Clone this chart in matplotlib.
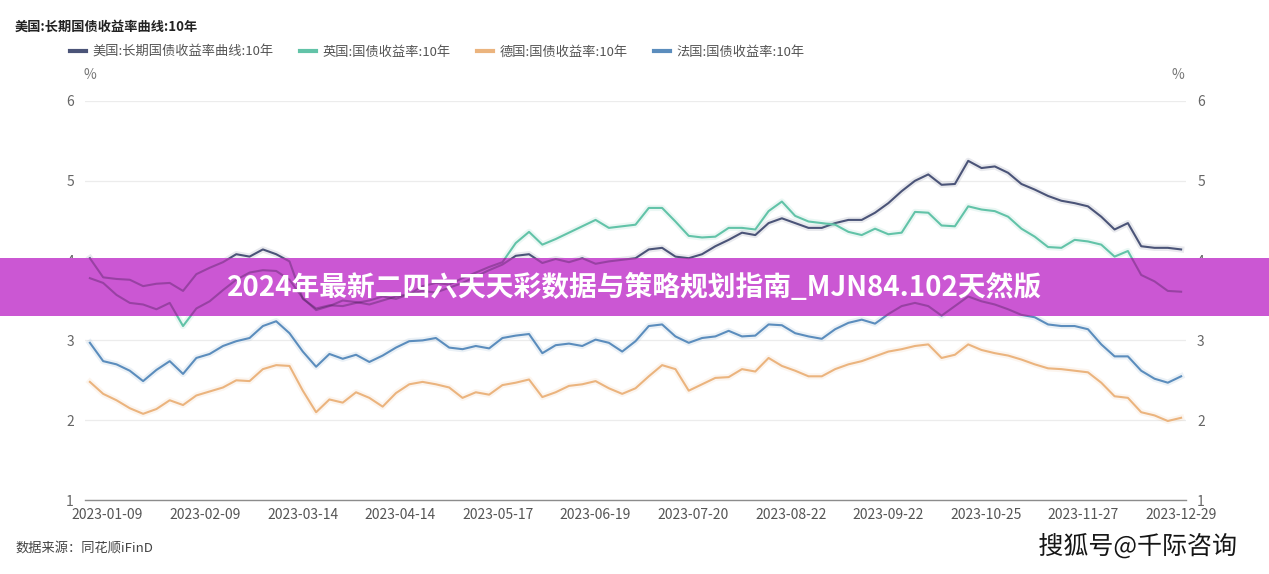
import numpy as np
import matplotlib
matplotlib.use('Agg')
import matplotlib.pyplot as plt
from matplotlib.patches import Rectangle
from matplotlib.lines import Line2D
import matplotlib.patheffects as pe

plt.rcParams['font.family'] = ['Noto Sans CJK SC', 'DejaVu Sans']

# ---------------- data ----------------
chart_title = '美国:长期国债收益率曲线:10年'
series_names = ['美国:长期国债收益率曲线:10年', '英国:国债收益率:10年',
                '德国:国债收益率:10年', '法国:国债收益率:10年']
step = 3  # one reading every 3 trading days, starting 2023-01-03
tick_index = [4, 26, 48, 70, 92, 114, 136, 158, 180, 202, 224, 246]
tick_labels = ['2023-01-09', '2023-02-09', '2023-03-14', '2023-04-14',
               '2023-05-17', '2023-06-19', '2023-07-20', '2023-08-22',
               '2023-09-22', '2023-10-25', '2023-11-27', '2023-12-29']
y_ticks = [1, 2, 3, 4, 5, 6]

us = [4.03, 3.79, 3.77, 3.76, 3.68, 3.71, 3.72, 3.62, 3.83, 3.91,
      3.98, 4.08, 4.05, 4.14, 4.08, 3.99, 3.52, 3.40, 3.44, 3.43,
      3.47, 3.50, 3.55, 3.52, 3.58, 3.62, 3.60, 3.66, 3.72, 3.80,
      3.88, 3.95, 4.06, 4.08, 3.97, 4.02, 3.98, 4.03, 3.96, 3.99,
      4.01, 4.03, 4.14, 4.16, 4.05, 4.03, 4.08, 4.18, 4.26, 4.35,
      4.32, 4.47, 4.53, 4.47, 4.41, 4.41, 4.47, 4.51, 4.51, 4.60,
      4.72, 4.87, 5.00, 5.08, 4.95, 4.96, 5.25, 5.16, 5.18, 5.10,
      4.96, 4.89, 4.81, 4.75, 4.72, 4.68, 4.55, 4.39, 4.47, 4.18,
      4.16, 4.16, 4.14]
uk = [3.78, 3.72, 3.57, 3.47, 3.45, 3.39, 3.47, 3.18, 3.40, 3.49,
      3.63, 3.76, 3.85, 3.88, 3.87, 3.76, 3.53, 3.38, 3.43, 3.50,
      3.48, 3.45, 3.50, 3.55, 3.58, 3.68, 3.72, 3.70, 3.78, 3.85,
      3.92, 3.98, 4.22, 4.36, 4.20, 4.27, 4.35, 4.43, 4.51, 4.41,
      4.43, 4.45, 4.66, 4.66, 4.49, 4.31, 4.29, 4.30, 4.41, 4.41,
      4.39, 4.62, 4.74, 4.56, 4.49, 4.47, 4.45, 4.36, 4.32, 4.40,
      4.33, 4.35, 4.61, 4.60, 4.44, 4.43, 4.68, 4.64, 4.62, 4.55,
      4.40, 4.30, 4.17, 4.16, 4.26, 4.24, 4.20, 4.05, 4.12, 3.82,
      3.74, 3.62, 3.61]
de = [2.48, 2.33, 2.25, 2.15, 2.08, 2.14, 2.25, 2.19, 2.31, 2.36,
      2.41, 2.50, 2.49, 2.64, 2.69, 2.68, 2.37, 2.10, 2.26, 2.22,
      2.35, 2.28, 2.17, 2.34, 2.45, 2.48, 2.45, 2.41, 2.28, 2.35,
      2.32, 2.44, 2.47, 2.51, 2.29, 2.35, 2.43, 2.45, 2.49, 2.40,
      2.33, 2.40, 2.55, 2.69, 2.64, 2.37, 2.45, 2.53, 2.54, 2.64,
      2.61, 2.78, 2.68, 2.62, 2.55, 2.55, 2.64, 2.70, 2.74, 2.80,
      2.86, 2.89, 2.93, 2.95, 2.78, 2.82, 2.95, 2.88, 2.84, 2.81,
      2.76, 2.70, 2.65, 2.64, 2.62, 2.60, 2.47, 2.30, 2.28, 2.10,
      2.06, 1.99, 2.03]
fr = [2.97, 2.74, 2.70, 2.62, 2.49, 2.63, 2.74, 2.58, 2.78, 2.83,
      2.93, 2.99, 3.03, 3.18, 3.24, 3.09, 2.86, 2.67, 2.83, 2.77,
      2.82, 2.73, 2.81, 2.91, 2.99, 3.00, 3.03, 2.91, 2.89, 2.93,
      2.90, 3.03, 3.06, 3.08, 2.84, 2.94, 2.96, 2.93, 3.01, 2.97,
      2.86, 2.99, 3.18, 3.20, 3.05, 2.97, 3.03, 3.05, 3.12, 3.05,
      3.06, 3.20, 3.19, 3.09, 3.05, 3.02, 3.14, 3.22, 3.26, 3.21,
      3.33, 3.43, 3.47, 3.43, 3.31, 3.43, 3.55, 3.49, 3.45, 3.39,
      3.32, 3.29, 3.20, 3.18, 3.18, 3.14, 2.95, 2.80, 2.80, 2.62,
      2.52, 2.47, 2.55]

banner_text = '2024年最新二四六天天彩数据与策略规划指南_MJN84.102天然版'
source_text = '数据来源：同花顺iFinD'
watermark = '搜狐号@千际咨询'

# ---------------- layout ----------------
W, H = 1269, 574
colors = ['#4B5478', '#62C3A8', '#EBB47E', '#5B8DBD']
fig = plt.figure(figsize=(W / 100, H / 100), dpi=100)
fig.patch.set_facecolor('white')
ax = fig.add_axes([85 / W, 1 - 500 / H, (1186 - 85) / W, (500 - 101) / H])

ax.set_xlim(-1.1, 247.1)
ax.set_ylim(1, 6)
ax.set_yticks(y_ticks)
ax.set_xticks(tick_index, tick_labels)
ax.tick_params(axis='y', length=0, pad=8, labelsize=10, labelcolor='#666666',
               labelleft=True, labelright=True)
ax.tick_params(axis='x', length=0, pad=6, labelsize=10, labelcolor='#555555')
ax.grid(axis='y', color='#ECECEC', lw=0.9)
ax.set_axisbelow(True)
for s in ['top', 'left', 'right']:
    ax.spines[s].set_visible(False)
ax.spines['bottom'].set_color('#8C8C8C')
ax.spines['bottom'].set_linewidth(1.0)

all_series = [us, uk, de, fr]
for vals, c, name in zip(all_series, colors, series_names):
    x = np.arange(len(vals)) * step
    ax.plot(x, vals, color=c, lw=1.5, zorder=3, label=name,
            path_effects=[pe.Stroke(linewidth=4.5, foreground=c, alpha=0.12), pe.Normal()])

# banner overlay
banner = Rectangle((0, 1 - 316 / H), 1, 58 / H, transform=fig.transFigure,
                   facecolor='#CB57D3', edgecolor='none', zorder=5, clip_on=False)
ax.add_patch(banner)
for vals, c in zip(all_series, colors):
    x = np.arange(len(vals)) * step
    ln, = ax.plot(x, vals, color='#3a1a4a', lw=1.5, alpha=0.35, zorder=6)
    ln.set_clip_path(banner)

fig.text(635 / W, 1 - 288 / H, banner_text, ha='center', va='center',
         fontsize=20, fontweight='bold', color='white', zorder=10)

# title, legend, units
fig.text(15 / W, 1 - 27 / H, chart_title, ha='left', va='center',
         fontsize=9.5, fontweight='bold', color='#222222')
handles = [Line2D([], [], color=c, lw=3) for c in colors]
fig.legend(handles, series_names, loc='center left',
           bbox_to_anchor=(70 / W, 1 - 52 / H), ncol=4, frameon=False,
           fontsize=9.5, handlelength=1.2, handletextpad=0.5,
           columnspacing=2.0, labelcolor='#555555', borderaxespad=0, borderpad=0)
fig.text(90 / W, 1 - 75 / H, '%', ha='center', va='center', fontsize=10, color='#777777')
fig.text(1178 / W, 1 - 75 / H, '%', ha='center', va='center', fontsize=10, color='#777777')

fig.text(15 / W, 1 - 548 / H, source_text, ha='left', va='center',
         fontsize=9.5, color='#444444')
fig.text(1237 / W, 1 - 547 / H, watermark, ha='right', va='center',
         fontsize=18, color='#151515',
         path_effects=[pe.withStroke(linewidth=3, foreground='white')])

fig.savefig('out.png', dpi=100)
